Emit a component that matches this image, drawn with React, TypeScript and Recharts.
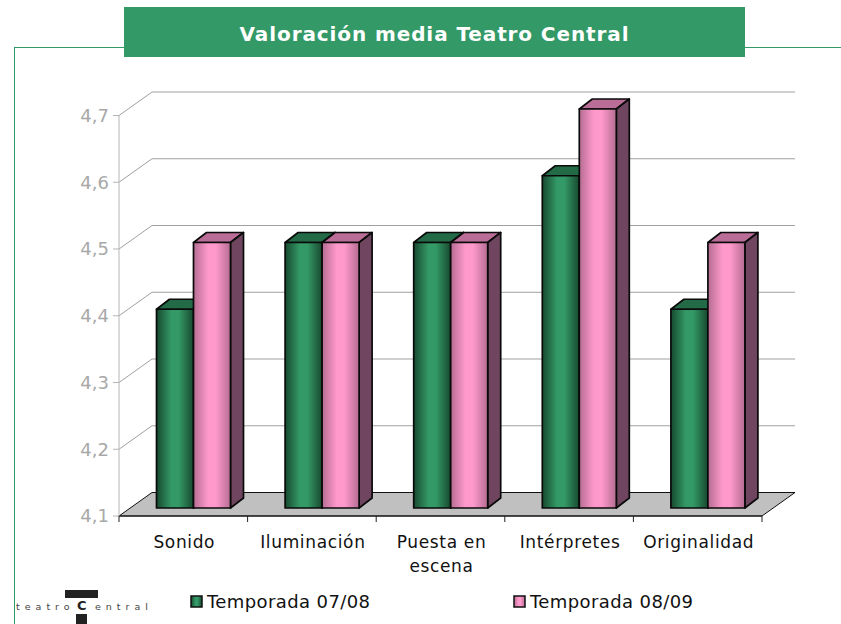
import React from "react";
import { BarChart, Bar, XAxis, YAxis, CartesianGrid, Legend } from "recharts";

const categories = ["Sonido", "Iluminación", "Puesta en escena", "Intérpretes", "Originalidad"];
const temporada0708 = [4.4, 4.5, 4.5, 4.6, 4.4];
const temporada0809 = [4.5, 4.5, 4.5, 4.7, 4.5];
const yTicks = [4.1, 4.2, 4.3, 4.4, 4.5, 4.6, 4.7];

const data = categories.map((name, i) => ({
  name,
  a: temporada0708[i],
  b: temporada0809[i],
}));

const FONT = "'DejaVu Sans', sans-serif";
const DX = 33; // depth of the fake 3d wall
const DY = 23.5;

function GridLine(props: any) {
  const { x1, x2, y1, index } = props;
  const floor = index === 0;
  return (
    <g>
      {floor && (
        <polygon
          points={`${x1},${y1} ${x1 + DX},${y1 - DY} ${x2 + DX},${y1 - DY} ${x2},${y1}`}
          fill="#c0c0c0"
          stroke="#111"
          strokeWidth={1}
        />
      )}
      {!floor && (
        <polyline
          points={`${x1},${y1} ${x1 + DX},${y1 - DY} ${x2 + DX},${y1 - DY}`}
          fill="none"
          stroke="#a0a0a0"
          strokeWidth={1}
        />
      )}
    </g>
  );
}

function Bar3D(props: any) {
  const { x, y, width, height, fill, topColor, sideColor } = props;
  const left = x + 10.5;
  const right = left + width;
  const top = y - 6.5;
  const bottom = y + height - 8;
  const dx = 13;
  const dy = 10;
  return (
    <g stroke="#0a0a0a" strokeWidth={1.7} strokeLinejoin="round">
      <polygon points={`${left},${top} ${left + dx},${top - dy} ${right + dx},${top - dy} ${right},${top}`} fill={topColor} />
      <polygon points={`${right},${top} ${right + dx},${top - dy} ${right + dx},${bottom - dy} ${right},${bottom}`} fill={sideColor} />
      <rect x={left} y={top} width={width} height={bottom - top} fill={fill} />
    </g>
  );
}

function CategoryTick(props: any) {
  const { x, y, payload, index, visibleTicksCount } = props;
  const band = 128.6;
  const words: string[] = payload.value.length > 12 ? ["Puesta en", "escena"] : [payload.value];
  return (
    <g>
      <line x1={x - band / 2} x2={x - band / 2} y1={516} y2={522} stroke="#222" />
      {index === visibleTicksCount - 1 && <line x1={x + band / 2} x2={x + band / 2} y1={516} y2={522} stroke="#222" />}
      <text textAnchor="middle" fontFamily={FONT} fontSize={17} fill="#111" letterSpacing={0.65}>
        {words.map((w, i) => (
          <tspan key={w} x={x + 1} y={y + 24 + i * 24}>
            {w}
          </tspan>
        ))}
      </text>
    </g>
  );
}

const legendLeft = [190, 513];

function LegendRow({ payload }: any) {
  return (
    <div style={{ position: "relative", height: 48, width: 841 }}>
      {(payload || []).map((entry: any, i: number) => (
        <div key={entry.value} style={{ position: "absolute", left: legendLeft[i], top: 13, display: "flex", alignItems: "center", height: 24 }}>
          <svg width={13} height={13} style={{ marginRight: 4 }}>
            <rect x={1} y={1} width={11} height={11} fill={entry.color} stroke="#111" strokeWidth={1.5} />
          </svg>
          <span style={{ fontFamily: FONT, fontSize: 18, letterSpacing: 0.4, color: "#111", whiteSpace: "nowrap" }}>{entry.value}</span>
        </div>
      ))}
    </div>
  );
}

function Logo() {
  const small = { position: "absolute", fontFamily: FONT, fontSize: 9.5, letterSpacing: 5, color: "#444", whiteSpace: "nowrap" } as const;
  return (
    <div style={{ position: "absolute", left: 0, top: 0 }}>
      <div style={{ position: "absolute", left: 65, top: 590, width: 33, height: 8, background: "#222" }} />
      <div style={{ position: "absolute", left: 76, top: 614, width: 11, height: 10, background: "#222" }} />
      <div style={{ ...small, left: 16, top: 601 }}>teatro</div>
      <div style={{ position: "absolute", left: 77, top: 598, fontFamily: FONT, fontSize: 13, fontWeight: 700, color: "#222" }}>C</div>
      <div style={{ ...small, left: 95, top: 601 }}>entral</div>
    </div>
  );
}

export default function App() {
  return (
    <div style={{ position: "absolute", left: 0, top: 0, width: 841, height: 624, overflow: "hidden", background: "#fff" }}>
      {/* frame and title */}
      <div style={{ position: "absolute", left: 14, top: 47, width: 827, height: 1, background: "#339966" }} />
      <div style={{ position: "absolute", left: 14, top: 47, width: 1, height: 577, background: "#339966" }} />
      <div
        style={{
          position: "absolute",
          left: 124,
          top: 7,
          width: 621,
          height: 50,
          background: "#339966",
          color: "#fff",
          fontFamily: FONT,
          fontWeight: 700,
          fontSize: 20,
          letterSpacing: 0.9,
          lineHeight: "54px",
          textAlign: "center",
        }}
      >
        Valoración media Teatro Central
      </div>
      <Logo />
      <div style={{ position: "absolute", left: 0, top: 0 }}>
        <BarChart
          width={841}
          height={624}
          data={data}
          margin={{ top: 115.5, right: 79, left: 0, bottom: 0 }}
          barSize={37}
          barGap={0}
        >
          <defs>
            <linearGradient id="greenBar" x1="0" y1="0" x2="1" y2="0">
              <stop offset="0%" stopColor="#17492f" />
              <stop offset="40%" stopColor="#339966" />
              <stop offset="60%" stopColor="#339966" />
              <stop offset="100%" stopColor="#17492f" />
            </linearGradient>
            <linearGradient id="pinkBar" x1="0" y1="0" x2="1" y2="0">
              <stop offset="0%" stopColor="#b56d92" />
              <stop offset="40%" stopColor="#ff99cc" />
              <stop offset="60%" stopColor="#ff99cc" />
              <stop offset="100%" stopColor="#b56d92" />
            </linearGradient>
          </defs>
          <CartesianGrid vertical={false} horizontal={(p: any) => <GridLine key={p.key} {...p} />} />
          <XAxis dataKey="name" height={60} interval={0} stroke="#111" tickLine={false} tick={(p: any) => <CategoryTick {...p} />} />
          <YAxis
            width={119}
            domain={[4.1, 4.7]}
            ticks={yTicks}
            tickFormatter={(v: number) => v.toFixed(1).replace(".", ",")}
            stroke="#b5b5b5"
            tickSize={6}
            tickMargin={4}
            tick={{ fill: "#a8a8a8", fontSize: 18, fontFamily: FONT }}
          />
          <Legend verticalAlign="bottom" height={48} width={841} wrapperStyle={{ left: 0 }} content={<LegendRow />} />
          <Bar dataKey="a" name="Temporada 07/08" fill="url(#greenBar)" isAnimationActive={false} shape={(p: any) => <Bar3D {...p} topColor="#236b47" sideColor="#1d5539" />} />
          <Bar dataKey="b" name="Temporada 08/09" fill="url(#pinkBar)" isAnimationActive={false} shape={(p: any) => <Bar3D {...p} topColor="#ba6d97" sideColor="#70455f" />} />
        </BarChart>
      </div>
    </div>
  );
}
